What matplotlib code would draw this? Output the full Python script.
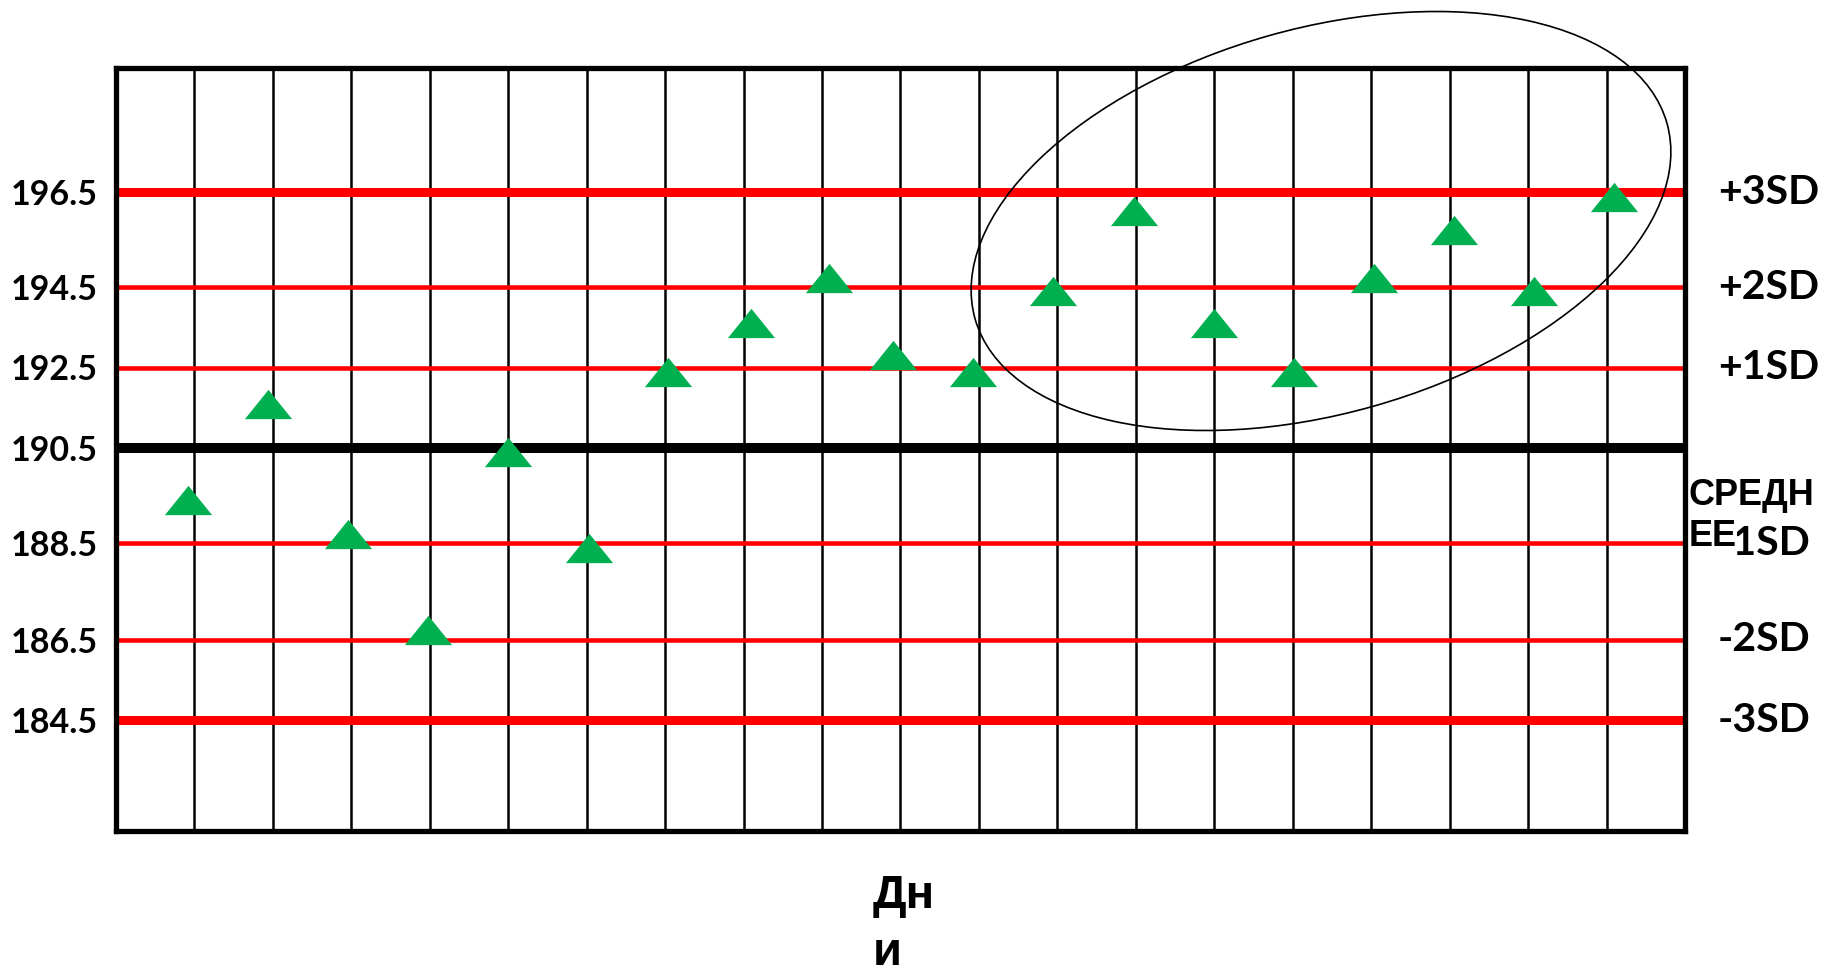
import numpy as np
import matplotlib
matplotlib.use("Agg")
import matplotlib.pyplot as plt
from matplotlib.patches import Ellipse

# ---------------- data ----------------
days = [0.92, 1.94, 2.96, 3.98, 5.00, 6.03, 7.04, 8.10, 9.09, 9.91,
        10.93, 11.95, 12.98, 14.00, 15.01, 16.04, 17.06, 18.08, 19.10]
values = [189.4, 191.6, 188.7, 186.7, 190.4, 188.4, 192.4, 193.6, 194.7, 192.8,
          192.4, 194.4, 196.1, 193.6, 192.4, 194.7, 195.7, 194.4, 196.4]

control_levels = [196.5, 194.5, 192.5, 190.5, 188.5, 186.5, 184.5]
level_tick_labels = ["196.5", "194.5", "192.5", "190.5", "188.5", "186.5", "184.5"]
sd_labels = ["+3SD", "+2SD", "+1SD", "", "-1SD", "-2SD", "-3SD"]
mean_label_lines = ["СРЕДН", "ЕЕ"]
x_label_lines = ["Дн", "и"]
n_days = 20

# ---------------- figure ----------------
W, H, DPI = 1823, 968, 100
fig = plt.figure(figsize=(W / DPI, H / DPI), dpi=DPI)
fig.patch.set_facecolor("white")

left_px, right_px, top_px, bottom_px = 116, 1685, 68, 831
ax = fig.add_axes([left_px / W, 1 - bottom_px / H,
                   (right_px - left_px) / W, (bottom_px - top_px) / H])

# the original chart has unevenly spaced control lines: piecewise-linear y scale
ylim_lo, ylim_hi = 181.72, 199.10
anchor_vals = np.array([ylim_lo, 184.5, 186.5, 188.5, 190.5, 192.5, 194.5, 196.5, ylim_hi])
anchor_pos = -np.array([831.0, 719.7, 639.6, 543.3, 447.6, 367.5, 287.2, 191.8, 68.0])


def fwd(v):
    return np.interp(np.asarray(v, dtype=float), anchor_vals, anchor_pos)


def inv(p):
    return np.interp(np.asarray(p, dtype=float), anchor_pos, anchor_vals)


ax.set_yscale("function", functions=(fwd, inv))
ax.set_ylim(ylim_lo, ylim_hi)
ax.set_xlim(0, n_days)

# vertical day lines
for d in range(1, n_days):
    ax.axvline(d, color="black", lw=1.8, zorder=1)

# control lines
for lvl, lab in zip(control_levels, sd_labels):
    if lab == "":
        ax.axhline(lvl, color="black", lw=7.2, zorder=2, solid_capstyle="butt")
    elif lab in ("+3SD", "-3SD"):
        ax.axhline(lvl, color="#FF0000", lw=6.5, zorder=2, solid_capstyle="butt")
    else:
        ax.axhline(lvl, color="#FF0000", lw=3.3, zorder=2, solid_capstyle="butt")

# triangles
tri = [(0, 0.62), (-1, -0.62), (1, -0.62)]
ax.plot(days, values, linestyle="none", marker=tri, markersize=34,
        color="#00B050", markeredgewidth=0, zorder=3, clip_on=False)

# axes styling
for s in ax.spines.values():
    s.set_linewidth(3.8)
    s.set_color("black")
    s.set_zorder(5)
ax.set_xticks([])
ax.set_yticks(control_levels)
ax.set_yticklabels(level_tick_labels, fontsize=24.5, fontweight="bold",
                   family=["Lato", "DejaVu Sans"])
ax.yaxis.set_minor_locator(matplotlib.ticker.NullLocator())
ax.tick_params(axis="y", length=0, pad=13)

# right-hand SD labels (baseline set a half cap-height below the line)
ytr = ax.get_yaxis_transform()
for lvl, lab in zip(control_levels, sd_labels):
    if lab:
        ax.annotate(lab, xy=(1.021, lvl), xycoords=ytr,
                    xytext=(0, -8.5), textcoords="offset points",
                    ha="left", va="baseline", fontsize=29.5, fontweight="bold",
                    family=["Lato", "DejaVu Sans"], annotation_clip=False,
                    zorder=4)

# mean label, wrapped in two lines; the second line sits on an opaque box
cyr_font = ["Liberation Sans", "DejaVu Sans"]
ax.text(1689 / W, 1 - 505 / H, mean_label_lines[0], transform=fig.transFigure,
        ha="left", va="baseline", fontsize=26, fontweight="bold",
        family=cyr_font, zorder=4.6, clip_on=False)
ax.text(1689 / W, 1 - 546 / H, mean_label_lines[1], transform=fig.transFigure,
        ha="left", va="baseline", fontsize=26, fontweight="bold",
        family=cyr_font, zorder=4.6, clip_on=False,
        bbox=dict(facecolor="white", edgecolor="none", pad=0.3))

# x-axis title, wrapped in two lines
fig.text(873 / W, 1 - 908 / H, x_label_lines[0], ha="left", va="baseline",
         fontsize=34, fontweight="bold", family=cyr_font)
fig.text(873 / W, 1 - 965 / H, x_label_lines[1], ha="left", va="baseline",
         fontsize=34, fontweight="bold", family=cyr_font)

# highlighting ellipse (annotation drawn in figure inches)
ell = Ellipse((1321 / DPI, (H - 221) / DPI), 719 / DPI, 385 / DPI, angle=15.8,
              transform=fig.dpi_scale_trans, fill=False, edgecolor="black",
              lw=1.2, zorder=10)
fig.add_artist(ell)

fig.savefig("out.png", dpi=DPI, facecolor="white")
